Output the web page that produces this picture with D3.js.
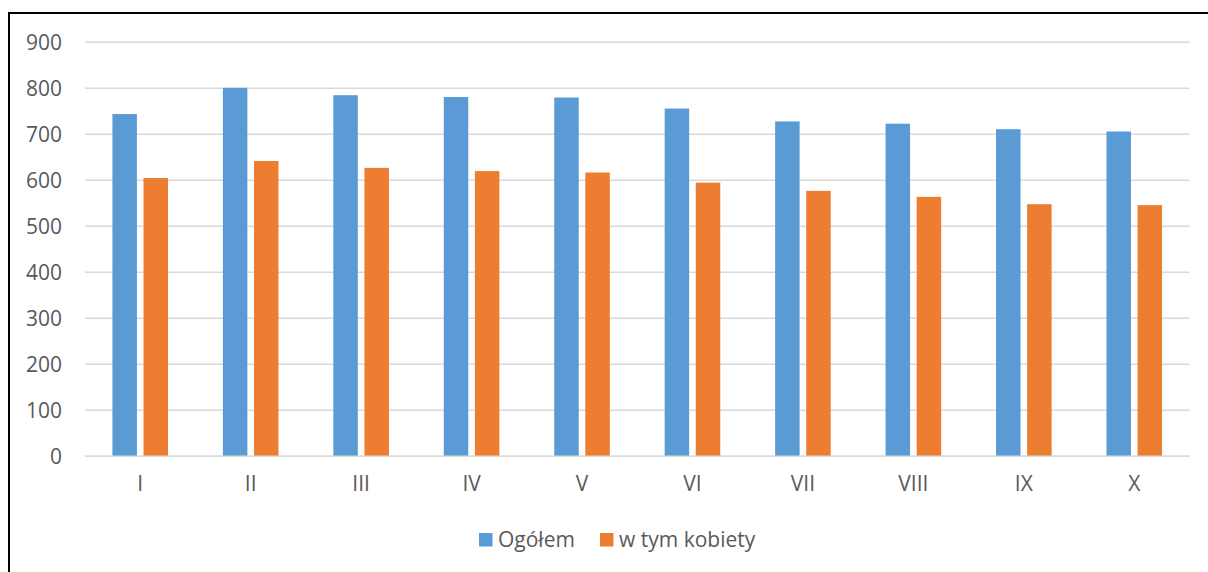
<!DOCTYPE html>
<html><head><meta charset="utf-8">
<script src="https://cdn.jsdelivr.net/npm/d3@7"></script>
<style>html,body{margin:0;padding:0;background:#fff;}svg{display:block;}</style>
</head><body>
<svg id="chart" width="1208" height="572"></svg>
<script>
const categories = ["I","II","III","IV","V","VI","VII","VIII","IX","X"];
const ogolem = [744, 801, 785, 781, 780, 756, 728, 723, 711, 706];
const kobiety = [605, 642, 627, 620, 617, 595, 577, 564, 548, 546];
const seriesNames = ["Ogółem", "w tym kobiety"];
const yTicks = [0,100,200,300,400,500,600,700,800,900];

(function(){
const colors = ["#5b9bd5", "#ed7d31"];
const font = "'Open Sans', sans-serif";
const fs = 21;
const svg = d3.select("#chart");

// outer frame (top and left edges visible)
svg.append("line").attr("x1",8).attr("x2",1208).attr("y1",13).attr("y2",13).attr("stroke","#000").attr("stroke-width",2);
svg.append("line").attr("x1",9).attr("x2",9).attr("y1",12).attr("y2",572).attr("stroke","#000").attr("stroke-width",2);

const pLeft = 85, pRight = 1189.5, pTop = 42.3, pBottom = 456.3;
const x = d3.scaleBand().domain(categories).range([pLeft, pRight]).paddingInner(0).paddingOuter(0);
const y = d3.scaleLinear().domain([0, 900]).range([pBottom, pTop]);

const barW = 24.5, gap = 6.6;
const groupW = barW*2 + gap;

// gridlines
svg.append("g").selectAll("line").data(yTicks).join("line")
  .attr("x1", pLeft).attr("x2", pRight)
  .attr("y1", d => y(d)).attr("y2", d => y(d))
  .attr("stroke", "#d9d9d9").attr("stroke-width", 1.5);

// y axis labels
const yAxis = d3.axisLeft(y).tickValues(yTicks).tickSize(0).tickPadding(23);
const gy = svg.append("g").attr("transform", `translate(${pLeft},0)`).call(yAxis);
gy.select(".domain").remove();
gy.selectAll("text").attr("font-family", font).attr("font-size", fs).attr("fill", "#595959");

// bars
const data = [ogolem, kobiety];
data.forEach((vals, si) => {
  svg.append("g").selectAll("rect").data(categories).join("rect")
    .attr("x", (c) => x(c) + (x.bandwidth() - groupW)/2 + si*(barW+gap))
    .attr("width", barW)
    .attr("y", (c,i) => y(vals[i]))
    .attr("height", (c,i) => y(0) - y(vals[i]))
    .attr("fill", colors[si]);
});

// baseline
svg.append("line").attr("x1", pLeft).attr("x2", pRight).attr("y1", y(0)).attr("y2", y(0))
  .attr("stroke", "#d9d9d9").attr("stroke-width", 1.5);

// x axis labels
const xAxis = d3.axisBottom(x).tickSize(0).tickPadding(20);
const gx = svg.append("g").attr("transform", `translate(0,${pBottom})`).call(xAxis);
gx.select(".domain").remove();
gx.selectAll("text").attr("font-family", font).attr("font-size", fs).attr("fill", "#595959");

// legend
const legend = svg.append("g");
const legendX = [479, 600];
seriesNames.forEach((name, i) => {
  legend.append("rect").attr("x", legendX[i]).attr("y", 533).attr("width", 13.5).attr("height", 13.5).attr("fill", colors[i]);
  legend.append("text").attr("x", legendX[i] + 19).attr("y", 540).attr("dy", "0.35em")
    .attr("font-family", font).attr("font-size", fs).attr("fill", "#595959").text(name);
});
})();
</script>
</body></html>
